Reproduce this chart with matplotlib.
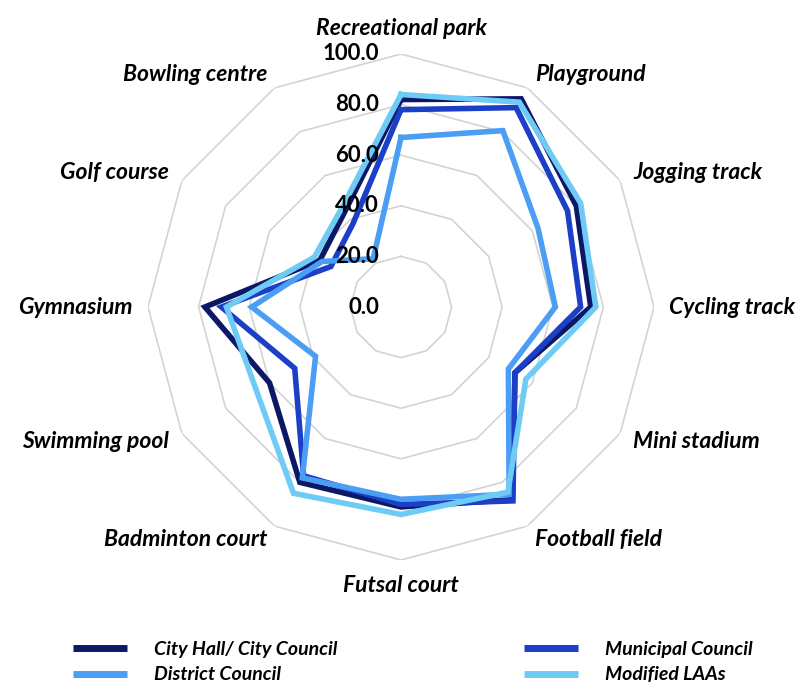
import numpy as np
import matplotlib
matplotlib.use("Agg")
import matplotlib.pyplot as plt
import matplotlib.transforms as mtransforms

# facility categories, clockwise from the top
categories = ["Recreational park", "Playground", "Jogging track", "Cycling track",
              "Mini stadium", "Football field", "Futsal court", "Badminton court",
              "Swimming pool", "Gymnasium", "Golf course", "Bowling centre"]

# percentage values
city_hall = [82, 95, 80, 75, 52, 88, 79, 80, 60, 77.5, 37, 44]
municipal = [78, 91, 76, 71, 52, 88.5, 78, 77, 48.5, 71, 32, 38]
district = [67, 80.5, 62.5, 61, 49, 85.5, 76, 78, 39, 59, 36, 22]
modified = [84, 93.5, 82, 77, 57, 84.5, 82, 85, 66, 69, 39.5, 46]

series_names = ["City Hall/ City Council", "Municipal Council", "District Council", "Modified LAAs"]
series_vals = [city_hall, municipal, district, modified]
colors = ["#0c1766", "#1b3fc6", "#4b9ef3", "#6ecbf6"]

ticks = [0, 20, 40, 60, 80, 100]
tick_labels = ["0.0", "20.0", "40.0", "60.0", "80.0", "100.0"]

FONT = "Lato"

W, H = 796, 685
fig = plt.figure(figsize=(W / 100, H / 100), dpi=100)
cx, cy, R = 401, 307, 253
ax = fig.add_axes([(cx - R) / W, (H - cy - R) / H, 2 * R / W, 2 * R / H], projection="polar")
ax.set_theta_zero_location("N")
ax.set_theta_direction(-1)
ax.set_ylim(0, 100)
ax.axis("off")

n = len(categories)
theta = np.linspace(0, 2 * np.pi, n, endpoint=False)
theta_c = np.append(theta, theta[0])

# polygon grid rings (no spokes)
for t in ticks[1:]:
    ax.plot(theta_c, [t] * (n + 1), color="#d3d3d3", lw=1.2, zorder=1)

# series
lines = []
for name, vals, col in zip(series_names, series_vals, colors):
    v = list(vals) + [vals[0]]
    ln, = ax.plot(theta_c, v, color=col, lw=4, label=name, zorder=3,
                  solid_joinstyle="miter")
    lines.append(ln)

# radial value labels, left of the vertical axis
off = mtransforms.offset_copy(ax.transData, fig=fig, x=-22, y=0, units="dots")
for t, lab in zip(ticks, tick_labels):
    ax.text(0, t, lab, transform=off, ha="right", va="center",
            fontsize=16, fontweight="bold", family=FONT, zorder=4)

# category labels
for th, lab in zip(theta, categories):
    deg = np.degrees(th) % 360
    s = np.sin(th)
    if abs(s) < 1e-6:
        ha = "center"
    elif s > 0:
        ha = "left"
    else:
        ha = "right"
    if deg < 1 or deg > 359:
        va = "bottom"
    elif abs(deg - 180) < 1:
        va = "top"
    else:
        va = "center"
    ax.text(th, 106, lab, ha=ha, va=va, fontsize=16.5, fontweight="bold",
            style="italic", family=FONT, clip_on=False)

# legend, two columns
leg_kw = dict(frameon=False, handlelength=2.8, handletextpad=1.4, labelspacing=0.45,
              borderpad=0, prop=dict(family=FONT, weight="bold", style="italic", size=14))
leg1 = fig.legend([lines[0], lines[2]], [series_names[0], series_names[2]],
                  loc="upper left", bbox_to_anchor=(63 / W, 1 - 631 / H), **leg_kw)
leg2 = fig.legend([lines[1], lines[3]], [series_names[1], series_names[3]],
                  loc="upper left", bbox_to_anchor=(514 / W, 1 - 631 / H), **leg_kw)
for leg in (leg1, leg2):
    for h in leg.legend_handles:
        h.set_linewidth(5)
        h.set_solid_capstyle("butt")

fig.savefig("out.png", dpi=100)
